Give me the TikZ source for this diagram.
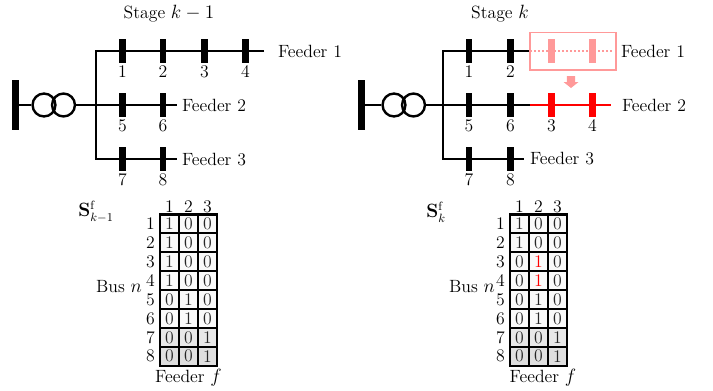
\documentclass[tikz,border=0pt]{standalone}
\usepackage{amsmath}
\usepackage{xcolor}
\usetikzlibrary{arrows.meta}
\usetikzlibrary{positioning}

\tikzset{
    busbar/.style={fill=black, inner sep=0pt, minimum width=5pt, minimum height=18.3pt},
    mainbar/.style={fill=black, inner sep=0pt, minimum width=5pt, minimum height=37.5pt},
    winding/.style={circle, draw, line width=1.8pt, inner sep=0pt, minimum size=17.2pt},
    feederline/.style={line width=1.8pt},
    txt/.style={font=\fontsize{13.3}{15}\selectfont, inner sep=0pt},
    cell/.style={draw, line width=1.6pt, inner sep=0pt, minimum width=14.2pt, minimum height=14.15pt, font=\fontsize{13.3}{15}\selectfont, text=black!85},
}

\newcommand{\stagegrid}[1]{%
    \foreach \row/\va/\vb/\vc/\lvl in {#1} {
        \node[cell, fill=gray!\lvl] (c\row a) at (0, \row*18.9) {\va};
        \node[cell, fill=gray!\lvl] (c\row b) at (19, \row*18.9) {\vb};
        \node[cell, fill=gray!\lvl] (c\row c) at (38, \row*18.9) {\vc};
        \node[txt] (r\row) at (-19, \row*18.9) {\row};
    }
    \node[txt] (h1) at (0, 1.5) {1};
    \node[txt] (h2) at (19, 1.5) {2};
    \node[txt] (h3) at (38, 1.5) {3};
}

\begin{document}
\begin{tikzpicture}[x=0.75pt, y=-0.75pt]
    \useasboundingbox (0, 0) rectangle (713, 390);

    % Stage k-1 network
    \node[txt] (titleA) at (169, 14) {Stage $k-1$};
    \node[mainbar] (mainA) at (15.3, 105) {};
    \node[winding] (wa1) at (44, 105) {};
    \node[winding] (wa2) at (63.5, 105) {};
    \coordinate (jA) at (96, 105);
    \coordinate (topA) at (96, 51);
    \coordinate (lowA) at (96, 159);
    \node[txt] (fa1) at (310, 51) {Feeder 1};
    \node[txt] (fa2) at (214, 105) {Feeder 2};
    \node[txt] (fa3) at (214, 160) {Feeder 3};
    \coordinate (ea1) at (264, 51);
    \coordinate (ea2) at (177, 105);
    \coordinate (ea3) at (177, 159);
    \draw[feederline] (mainA) -- (wa1);
    \draw[feederline] (wa2) -- (jA);
    \draw[feederline] (ea1) -- (topA) -- (lowA) -- (ea3);
    \draw[feederline] (jA) -- (ea2);
    \foreach \n/\x/\y in {1/122.5/51, 2/163/51, 3/204.5/51, 4/245.5/51, 5/122.5/105, 6/163/105, 7/122.5/159, 8/163/159} {
        \node[busbar] (ba\n) at (\x, \y) {};
        \node[txt, below=1.5pt of ba\n] (na\n) {\n};
    }

    % Stage k network
    \node[txt] (titleB) at (500, 14) {Stage $k$};
    \node[mainbar] (mainB) at (361.7, 105) {};
    \node[winding] (wb1) at (394, 105) {};
    \node[winding] (wb2) at (413.5, 105) {};
    \coordinate (jB) at (443, 105);
    \coordinate (topB) at (443, 51);
    \coordinate (lowB) at (443, 159);
    \node[txt] (fb1) at (653, 51) {Feeder 1};
    \node[txt] (fb2) at (654, 105) {Feeder 2};
    \node[txt] (fb3) at (562, 159) {Feeder 3};
    \coordinate (eb1) at (530, 51);
    \coordinate (eb2) at (530, 105);
    \coordinate (eb3) at (524, 159);
    \draw[feederline] (mainB) -- (wb1);
    \draw[feederline] (wb2) -- (jB);
    \draw[feederline] (eb1) -- (topB) -- (lowB) -- (eb3);
    \draw[feederline] (jB) -- (eb2);
    \foreach \n/\x/\y in {1/469/51, 2/510.5/51, 5/469/105, 6/510.5/105, 7/469/159, 8/510.5/159} {
        \node[busbar] (bb\n) at (\x, \y) {};
        \node[txt, below=1.5pt of bb\n] (nb\n) {\n};
    }

    % Moved section
    \coordinate (rr) at (611, 105);
    \draw[feederline, red] (eb2) -- (rr);
    \foreach \n/\x in {3/551.5, 4/592.5} {
        \node[busbar, fill=red] (bb\n) at (\x, 105) {};
        \node[txt, below=1.5pt of bb\n] (nb\n) {\n};
    }
    \node[draw=red!40, fill=white, line width=1pt, inner sep=0pt, minimum width=64.5pt, minimum height=28pt] (oldbox) at (573, 51.3) {};
    \coordinate (dd) at (612, 51);
    \foreach \n/\x in {3/551.5, 4/592.5} {
        \node[busbar, fill=red!40] (old\n) at (\x, 51) {};
    }
    \draw[feederline, red!40, dash pattern=on 1.6pt off 1.4pt] (eb1) -- (dd);
    \fill[red!40] (566.8, 76) -- (575.2, 76) -- (575.2, 82) -- (578.5, 82) -- (571, 88) -- (563.5, 82) -- (566.8, 82) -- cycle;

    % Left matrix
    \node[txt] (sA) at (96, 212) {$\mathbf{S}^{\mathrm{f}}_{k-1}$};
    \node[txt] (busA) at (119, 287) {Bus $n$};
    \node[txt] (feedA) at (188.5, 378) {Feeder $f$};
    \begin{scope}[shift={(169.5, 205)}]
        \stagegrid{1/1/0/0/4, 2/1/0/0/4, 3/1/0/0/4, 4/1/0/0/4, 5/0/1/0/4, 6/0/1/0/4, 7/0/0/1/18, 8/0/0/1/25}
    \end{scope}

    % Right matrix
    \node[txt] (sB) at (436, 212) {$\mathbf{S}^{\mathrm{f}}_{k}$};
    \node[txt] (busB) at (472, 287) {Bus $n$};
    \node[txt] (feedB) at (543, 378) {Feeder $f$};
    \begin{scope}[shift={(519.5, 205)}]
        \stagegrid{1/1/0/0/4, 2/1/0/0/4, 3/0/{\textcolor{red}{1}}/0/4, 4/0/{\textcolor{red}{1}}/0/4, 5/0/1/0/4, 6/0/1/0/4, 7/0/0/1/18, 8/0/0/1/25}
    \end{scope}
\end{tikzpicture}
\end{document}
